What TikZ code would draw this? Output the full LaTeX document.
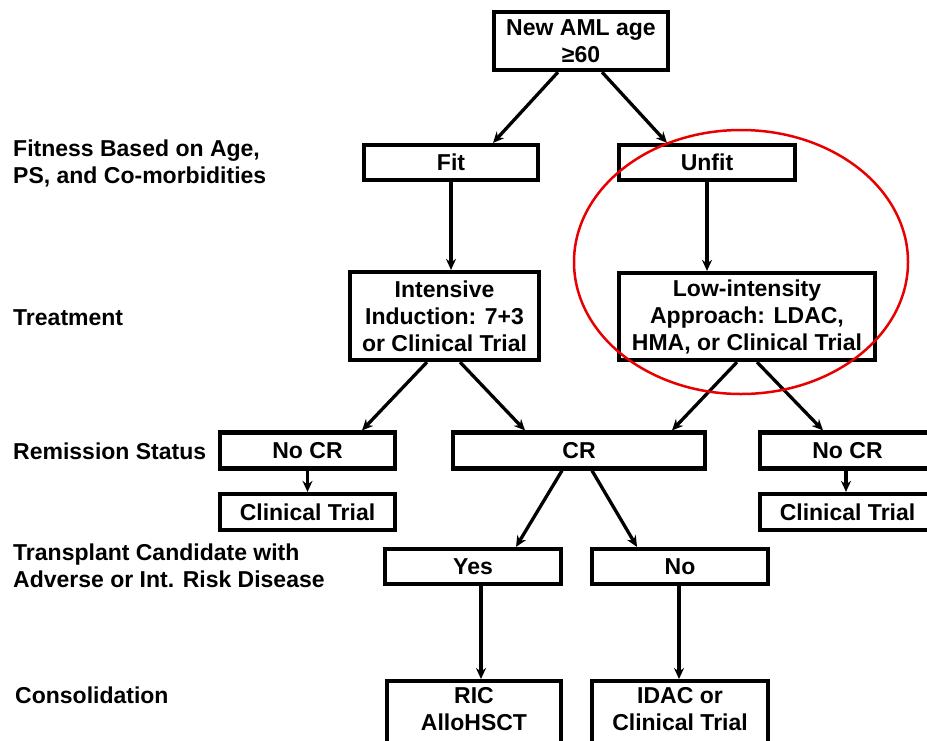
\documentclass[tikz,border=0pt]{standalone}
\usepackage{fontspec}
\setmainfont{Liberation Sans}
\usetikzlibrary{arrows.meta,calc}
\definecolor{ringred}{RGB}{232,0,0}
\tikzset{
  box/.style={draw=black, line width=4.2pt, fill=white, inner sep=0pt, align=center,
    font=\bfseries\fontsize{23}{27}\selectfont},
  boxtext/.style={inner sep=0pt, align=center, font=\bfseries\fontsize{23}{27}\selectfont},
  lbl/.style={anchor=west, align=left, inner sep=0pt, font=\bfseries\fontsize{23}{27}\selectfont},
  arr/.style={line width=3.3pt, -{Stealth[length=11pt,width=10pt]}},
}
\begin{document}
\begin{tikzpicture}[x=1pt,y=-1pt]
\clip (0,0) rectangle (927,740);
\fill[white] (0,0) rectangle (927,740);

% boxes
\node[box, minimum width=174pt, minimum height=58pt] (top) at (581,41) {New AML age\\≥60};
\node[box, minimum width=174pt, minimum height=35pt] (fit) at (451,162.5) {Fit};
\node[box, minimum width=176pt, minimum height=35pt] (unfit) at (707,162.5) {Unfit};
\node[box, minimum width=189pt, minimum height=88pt] (intensive) at (444.5,316) {Intensive\\Induction: 7+3\\or Clinical Trial};
\node[box, minimum width=256pt, minimum height=87pt] (low) at (747,316.5) {Low-intensity\\Approach: LDAC,\\HMA, or Clinical Trial};
\node[box, minimum width=175pt, minimum height=36pt] (nocrL) at (307.5,450.5) {No CR};
\node[box, minimum width=252pt, minimum height=36pt] (cr) at (579,450.5) {CR};
\node[box, minimum width=175pt, minimum height=36pt] (nocrR) at (847.5,450.5) {No CR};
\node[box, minimum width=175pt, minimum height=36pt] (ctL) at (307.5,512) {Clinical Trial};
\node[box, minimum width=175pt, minimum height=36pt] (ctR) at (847.5,512) {Clinical Trial};
\node[box, minimum width=176pt, minimum height=35pt] (yes) at (473,566.5) {Yes};
\node[box, minimum width=176pt, minimum height=35pt] (no) at (680,566.5) {No};
\node[box, minimum width=174pt, minimum height=80pt, anchor=north] (ric) at (474,679) {};
\node[box, minimum width=176pt, minimum height=80pt, anchor=north] (idac) at (680,679) {};
\node[boxtext] (rict) at (474,709.5) {RIC\\AlloHSCT};
\node[boxtext] (idact) at (680,709.5) {IDAC or\\Clinical Trial};

% row labels
\node[lbl] (lfit) at (13,163.5) {Fitness Based on Age,\\PS, and Co-morbidities};
\node[lbl] (ltreat) at (13,318) {Treatment};
\node[lbl] (lrem) at (13,451) {Remission Status};
\node[lbl] (ltrans) at (13,566) {Transplant Candidate with\\Adverse or Int. Risk Disease};
\node[lbl] (lcons) at (15,695) {Consolidation};

% connectors
\draw[arr] ($(top.south)+(-23,0)$) -- ($(fit.north)+(42,0)$);
\draw[arr] ($(top.south)+(21,0)$) -- ($(unfit.north)+(-40,0)$);
\draw[arr] (fit.south) -- (fit.south |- intensive.north);
\draw[arr] (unfit.south) -- (unfit.south |- low.north);
\draw[arr] ($(intensive.south)+(-17.5,0)$) -- ($(nocrL.north)+(54.5,0)$);
\draw[arr] ($(intensive.south)+(15.5,0)$) -- ($(cr.north)+(-54,0)$);
\draw[arr] ($(low.south)+(-10,0)$) -- ($(cr.north)+(93,0)$);
\draw[arr] ($(low.south)+(10,0)$) -- ($(nocrR.north)+(-24.5,0)$);
\draw[arr] (nocrL.south) -- (ctL.north);
\draw[arr] ($(nocrR.south)+(-1.5,0)$) -- ($(ctR.north)+(-1.5,0)$);
\draw[arr] ($(cr.south)+(-17,0)$) -- ($(yes.north)+(43,0)$);
\draw[arr] ($(cr.south)+(13,0)$) -- ($(no.north)+(-43,0)$);
\draw[arr] ($(yes.south)+(8,0)$) -- ($(ric.north)+(7,0)$);
\draw[arr] ($(no.south)+(-1,0)$) -- ($(idac.north)+(-1,0)$);

% red highlight ring
\draw[ringred, line width=2.5pt] (741,262) ellipse [x radius=167, y radius=132];
\end{tikzpicture}
\end{document}
